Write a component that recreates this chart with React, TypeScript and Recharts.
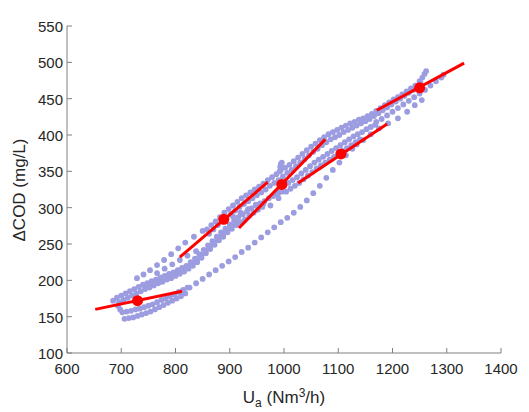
import React from "react"
import { ScatterChart, Scatter, XAxis, YAxis } from "recharts"

// measured data (Ua, dCOD)
const middleBandTop: [number, number][] = [
  [685, 172], [692, 176], [700, 179], [708, 182], [716, 185], [724, 188], [732, 191], [740, 194],
  [748, 196], [756, 199], [764, 201], [772, 204], [780, 206], [788, 209], [796, 211], [804, 214],
  [812, 217], [820, 220], [828, 225], [836, 230], [844, 236], [852, 242], [860, 248], [868, 254],
  [876, 260], [884, 266], [892, 271], [900, 277], [908, 282], [916, 287], [924, 291], [932, 295],
  [940, 299], [948, 303], [956, 306], [964, 309], [972, 313], [980, 316], [988, 319], [996, 322],
]
const middleBandMid: [number, number][] = [
  [744, 191], [752, 193], [760, 196], [768, 199], [776, 201], [784, 204], [792, 206], [800, 209],
  [808, 212], [816, 215], [824, 219], [832, 224], [840, 229], [848, 235], [856, 241], [864, 247],
  [872, 253], [880, 259], [888, 264], [896, 270], [904, 275], [912, 280],
]
const middleBandLow: [number, number][] = [
  [696, 170], [704, 173], [712, 176], [720, 179], [728, 182], [736, 185], [744, 188], [752, 190],
  [760, 193], [768, 196], [776, 198], [784, 201], [792, 203], [800, 206], [808, 209], [816, 212],
  [824, 216], [832, 220], [840, 225], [848, 231], [856, 237], [864, 243], [872, 249], [880, 255],
  [888, 260], [896, 266], [904, 271], [912, 276], [920, 280], [928, 284], [936, 289], [944, 293],
  [952, 297], [960, 301],
]
const upperBandTop: [number, number][] = [
  [858, 270], [866, 276], [874, 281], [882, 287], [890, 293], [898, 298], [906, 303], [914, 308],
  [922, 313], [930, 317], [938, 321], [946, 325], [954, 329], [962, 333], [970, 338], [978, 342],
  [986, 346], [994, 352], [1002, 355], [1010, 359], [1018, 364], [1026, 369], [1034, 374], [1042, 379],
  [1050, 384], [1058, 388], [1066, 393], [1074, 397], [1082, 401], [1090, 404], [1098, 407], [1106, 410],
  [1114, 413], [1122, 416], [1130, 418], [1138, 421], [1146, 423], [1154, 426], [1162, 429], [1170, 433],
  [1178, 437], [1186, 441], [1194, 445], [1202, 449], [1210, 452], [1218, 456], [1226, 460], [1234, 464],
  [1242, 468], [1250, 474], [1255, 479], [1259, 484], [1262, 488],
]
const upperBandLow: [number, number][] = [
  [862, 264], [870, 270], [878, 276], [886, 281], [894, 286], [902, 291], [910, 296], [918, 301],
  [926, 305], [934, 309], [942, 313], [950, 317], [958, 321], [966, 325], [974, 330], [982, 334],
  [990, 338], [998, 343], [1006, 348], [1014, 352], [1022, 357], [1030, 362], [1038, 367], [1046, 372],
  [1054, 377], [1062, 381], [1070, 386], [1078, 390], [1086, 394], [1094, 397], [1102, 400], [1110, 404],
  [1118, 407], [1126, 410], [1134, 413], [1142, 416], [1150, 419], [1158, 422], [1166, 426], [1174, 430],
  [1182, 434], [1190, 438], [1198, 442], [1206, 446], [1214, 450], [1222, 454], [1230, 458], [1238, 462],
  [1246, 466], [1252, 471],
]
const spike: [number, number][] = [
  [988, 318], [990, 313], [991, 322], [992, 350], [993, 356], [994, 360], [996, 362],
]
const centreBandTop: [number, number][] = [
  [1000, 330], [1008, 334], [1016, 338], [1024, 342], [1032, 347], [1040, 352], [1048, 357], [1056, 362],
  [1064, 366], [1072, 370], [1080, 374], [1088, 378], [1096, 382], [1104, 386], [1112, 390], [1120, 394],
  [1128, 398], [1136, 401], [1144, 404], [1152, 408], [1160, 411], [1168, 414],
]
const centreBandLow: [number, number][] = [
  [1004, 322], [1012, 326], [1020, 330], [1028, 334], [1036, 339], [1044, 344], [1052, 349], [1060, 354],
  [1068, 358], [1076, 362], [1084, 366], [1092, 370], [1100, 374], [1108, 378], [1116, 382], [1124, 386],
  [1132, 390], [1140, 394],
]
const rightBand: [number, number][] = [
  [1170, 418], [1180, 422], [1190, 427], [1200, 432], [1210, 437], [1220, 442], [1230, 447], [1240, 452],
  [1250, 457], [1260, 462], [1270, 468], [1280, 474], [1290, 479], [1294, 483],
]
const lowerLoopTop: [number, number][] = [
  [694, 165], [698, 160], [702, 156], [710, 157], [718, 158], [726, 160], [734, 161], [742, 163],
  [750, 165], [758, 167], [766, 170], [774, 173], [782, 175], [790, 178], [798, 181], [806, 184],
  [814, 187], [822, 190],
]
const lowerLoopLow: [number, number][] = [
  [706, 147], [714, 148], [722, 149], [730, 151], [738, 153], [746, 155], [754, 157], [762, 160],
  [770, 163], [778, 166], [786, 169], [794, 172], [802, 175], [810, 178], [818, 182],
]
const lowerSparse: [number, number][] = [
  [814, 184], [826, 190], [838, 196], [850, 202], [862, 208], [874, 214], [886, 220], [898, 226],
  [910, 232], [922, 239], [934, 245], [946, 252], [958, 259], [970, 266], [982, 273], [994, 280],
  [1006, 286], [1018, 293], [1030, 301], [1042, 310], [1054, 320], [1066, 330], [1078, 341], [1090, 352],
  [1102, 362], [1114, 372], [1126, 381], [1134, 387], [1146, 393], [1160, 401], [1175, 409], [1192, 416],
  [1210, 423], [1227, 432], [1241, 441], [1254, 448],
]
const upperSparse: [number, number][] = [
  [729, 203], [741, 208], [753, 214], [766, 221], [779, 228], [792, 236], [805, 244], [818, 252],
  [834, 260], [850, 268], [766, 210], [780, 216], [794, 222], [808, 228], [822, 234], [838, 240],
  [906, 288], [920, 293], [934, 298], [948, 304], [962, 305], [975, 303],
]

// local linear models: start, end, centre
const modelStarts: [number, number][] = [[652, 160], [808, 232], [917, 272], [1026, 334], [1171, 434]]
const modelEnds: [number, number][] = [[812, 185], [970, 335], [1076, 394], [1190, 415], [1332, 499]]
const modelCentres: [number, number][] = [[730, 172], [889, 284], [996, 332], [1105, 374], [1250, 465]]

const xTicks = [600, 700, 800, 900, 1000, 1100, 1200, 1300, 1400]
const yTicks = [100, 150, 200, 250, 300, 350, 400, 450, 500, 550]

const AXIS = "#808080"
const TEXT = "#262626"
const DOT = "#9c9ce0"
const RED = "#ff0000"
const FONT = "'Liberation Sans', Arial, sans-serif"

const toXY = (a: [number, number][]) => a.map(([x, y]) => ({ x, y }))

const measured = toXY([
  ...lowerLoopLow, ...lowerLoopTop, ...middleBandLow, ...middleBandMid, ...middleBandTop, ...upperSparse,
  ...lowerSparse, ...centreBandLow, ...centreBandTop, ...rightBand, ...upperBandLow, ...upperBandTop, ...spike,
])

const segments = modelStarts.map((s, i) => toXY([s, modelEnds[i]]))

function BottomTick({ x, y, payload }: any) {
  return (
    <g>
      <line x1={x} y1={y} x2={x} y2={y - 5} stroke={AXIS} />
      <text x={x} y={y + 21} textAnchor="middle" fontSize={15} fill={TEXT} fontFamily={FONT}>{payload.value}</text>
    </g>
  )
}
function LeftTick({ x, y, payload }: any) {
  return (
    <g>
      <line x1={x} y1={y} x2={x + 5} y2={y} stroke={AXIS} />
      <text x={x - 4} y={y + 6} textAnchor="end" fontSize={15} fill={TEXT} fontFamily={FONT}>{payload.value}</text>
    </g>
  )
}
function TopTick({ x, y }: any) {
  return <line x1={x} y1={y} x2={x} y2={y + 5} stroke={AXIS} />
}
function RightTick({ x, y }: any) {
  return <line x1={x} y1={y} x2={x - 5} y2={y} stroke={AXIS} />
}

const dotShape = (p: any) => <circle cx={p.cx} cy={p.cy} r={2.9} fill={DOT} />
const centreShape = (p: any) => <circle cx={p.cx} cy={p.cy} r={5.5} fill={RED} />
const noShape = () => <g />

export default function App() {
  return (
    <div style={{ position: "absolute", left: 0, top: 0, background: "#fff" }}>
      <ScatterChart width={529} height={412} margin={{ top: 26, right: 28, bottom: 0, left: 0 }}>
        <XAxis
          type="number" dataKey="x" domain={[600, 1400]} ticks={xTicks} height={59}
          tickSize={0} tickMargin={0} tickLine={false} tick={<BottomTick />} axisLine={{ stroke: AXIS }}
          interval={0} allowDataOverflow
          label={() => (
            <text x={284} y={403} textAnchor="middle" fontSize={17} fill={TEXT} fontFamily={FONT}>
              U<tspan fontSize={12} dy={4}>a</tspan>
              <tspan dy={-4}> (Nm</tspan>
              <tspan fontSize={12} dy={-6}>3</tspan>
              <tspan dy={6}>/h)</tspan>
            </text>
          )}
        />
        <XAxis
          xAxisId="top" orientation="top" type="number" domain={[600, 1400]} ticks={xTicks} height={0}
          tickSize={0} tickMargin={0} tickLine={false} tick={<TopTick />} axisLine={{ stroke: AXIS }}
          interval={0} allowDataOverflow
          label={() => (
            <text x={284} y={18} textAnchor="middle" fontSize={14} fill={TEXT} fontFamily={FONT}>
              Local linear fuzzy approximators
            </text>
          )}
        />
        <YAxis
          type="number" dataKey="y" domain={[100, 550]} ticks={yTicks} width={67}
          tickSize={0} tickMargin={0} tickLine={false} tick={<LeftTick />} axisLine={{ stroke: AXIS }}
          interval={0} allowDataOverflow
          label={() => (
            <text x={19} y={190} transform="rotate(-90 19 190)" textAnchor="middle" dominantBaseline="central"
              fontSize={17} fill={TEXT} fontFamily={FONT}>
              ΔCOD (mg/L)
            </text>
          )}
        />
        <YAxis
          yAxisId="right" orientation="right" type="number" domain={[100, 550]} ticks={yTicks} width={0}
          tickSize={0} tickMargin={0} tickLine={false} tick={<RightTick />} axisLine={{ stroke: AXIS }}
          interval={0} allowDataOverflow
        />
        <Scatter data={measured} shape={dotShape} isAnimationActive={false} />
        {segments.map((seg, i) => (
          <Scatter key={i} data={seg} shape={noShape} line={{ stroke: RED, strokeWidth: 3 }} isAnimationActive={false} />
        ))}
        <Scatter data={toXY(modelCentres)} shape={centreShape} isAnimationActive={false} />
      </ScatterChart>
    </div>
  )
}
